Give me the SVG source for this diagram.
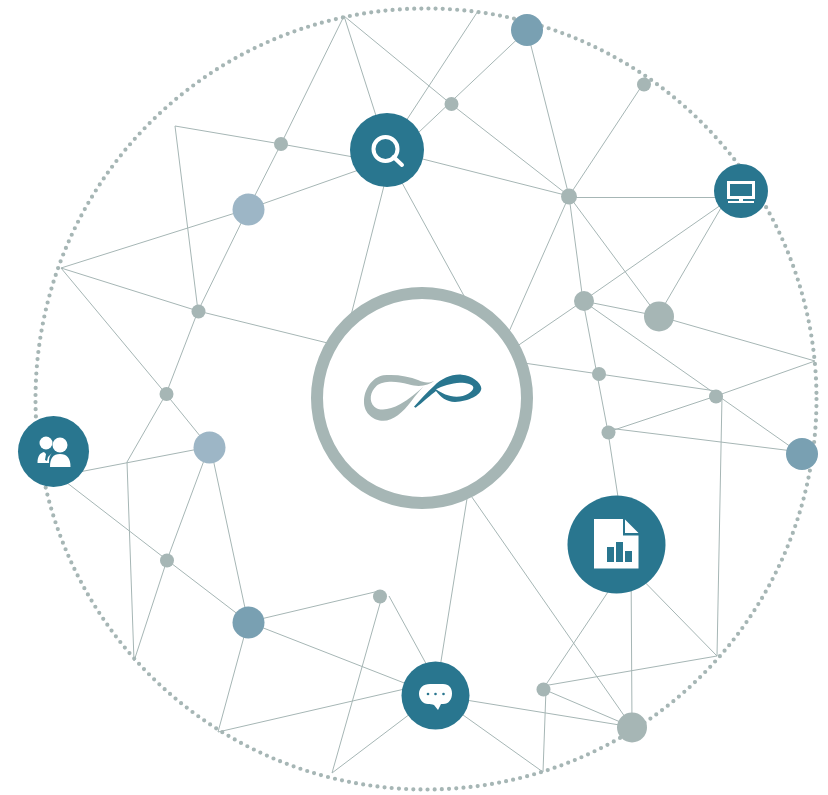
<svg xmlns="http://www.w3.org/2000/svg" width="828" height="795" viewBox="0 0 828 795">
<style>
.t{fill:#29768f}.g{fill:#a6b6b5}.w{fill:#fff}.lb{fill:#9db6c6}.mb{fill:#79a0b2}
#connectors line{stroke:#a6b6b5;stroke-width:1}
</style>
<rect width="828" height="795" fill="#fff"/>
<circle id="ring" cx="426" cy="399" r="390.500" fill="none" stroke="#a6b6b5" stroke-width="4.200" stroke-linecap="round" stroke-dasharray="0 7.195"/>
<g id="connectors">
<line x1="344" y1="16" x2="387" y2="150"/><line x1="344" y1="16" x2="281" y2="144"/><line x1="344" y1="16" x2="451" y2="104"/>
<line x1="478" y1="11" x2="387" y2="150"/><line x1="527" y1="30" x2="400" y2="150"/><line x1="451" y1="104" x2="569" y2="196"/>
<line x1="387" y1="150" x2="569" y2="196"/><line x1="527" y1="30" x2="569" y2="196"/><line x1="643" y1="84" x2="569" y2="196"/>
<line x1="569" y1="197.500" x2="741" y2="197.500"/><line x1="569" y1="196" x2="658" y2="316"/><line x1="569" y1="196" x2="583" y2="301"/>
<line x1="569" y1="196" x2="500" y2="352"/><line x1="583" y1="301" x2="510" y2="351"/><line x1="583" y1="301" x2="658" y2="316"/>
<line x1="583" y1="301" x2="801" y2="454"/><line x1="583" y1="301" x2="608" y2="432"/><line x1="510" y1="361" x2="716" y2="391"/>
<line x1="716" y1="396" x2="815" y2="361"/><line x1="608" y1="432" x2="716" y2="396"/><line x1="608" y1="428" x2="801" y2="452"/>
<line x1="608" y1="432" x2="620" y2="510"/><line x1="741" y1="191" x2="583" y2="301"/><line x1="725" y1="201" x2="658" y2="316"/>
<line x1="658" y1="316" x2="815" y2="361"/><line x1="722" y1="396" x2="717" y2="656"/><line x1="630" y1="567" x2="717" y2="656"/>
<line x1="616" y1="580" x2="543" y2="689"/><line x1="631" y1="560" x2="632" y2="727"/><line x1="543" y1="686" x2="717" y2="656"/>
<line x1="543" y1="689" x2="632" y2="727"/><line x1="546" y1="689" x2="543" y2="772"/><line x1="435" y1="695" x2="632" y2="727"/>
<line x1="435" y1="695" x2="543" y2="772"/><line x1="460" y1="480" x2="632" y2="727"/><line x1="470" y1="480" x2="438" y2="680"/>
<line x1="381" y1="600" x2="332" y2="773"/><line x1="389" y1="596" x2="435" y2="680"/><line x1="435" y1="695" x2="332" y2="773"/>
<line x1="435" y1="682" x2="218" y2="732"/><line x1="435" y1="695" x2="248" y2="622"/><line x1="379" y1="591" x2="248" y2="622"/>
<line x1="248" y1="622" x2="218" y2="732"/><line x1="248" y1="622" x2="209" y2="440"/><line x1="248" y1="622" x2="167" y2="560"/>
<line x1="167" y1="560" x2="53" y2="472"/><line x1="167" y1="560" x2="134" y2="661"/><line x1="167" y1="560" x2="209" y2="447"/>
<line x1="209" y1="447" x2="53" y2="477"/><line x1="209" y1="447" x2="166" y2="394"/><line x1="166" y1="394" x2="127" y2="462"/>
<line x1="127" y1="462" x2="134" y2="661"/><line x1="166" y1="394" x2="198" y2="311"/><line x1="166" y1="394" x2="61" y2="268"/>
<line x1="198" y1="311" x2="61" y2="268"/><line x1="198" y1="311" x2="248" y2="209"/><line x1="198" y1="311" x2="175" y2="126"/>
<line x1="198" y1="311" x2="360" y2="351"/><line x1="248" y1="209" x2="61" y2="268"/><line x1="248" y1="209" x2="281" y2="144"/>
<line x1="248" y1="209" x2="387" y2="160"/><line x1="281" y1="144" x2="175" y2="126"/><line x1="281" y1="144" x2="387" y2="163"/>
<line x1="388" y1="170" x2="346" y2="335"/><line x1="395" y1="170" x2="480" y2="325"/>
</g>
<g id="hub"><circle cx="422" cy="398" r="105" fill="#fff" stroke="#a6b6b5" stroke-width="12"/>
<g transform="translate(340 350) scale(.3333)">
<path class="g" fill-rule="evenodd" d="M283 92C268 100 252 99 236 91C205 78 165 72 130 76C95 82 72 120 72 155C72 190 100 212 130 212C160 212 188 188 215 152C226 137 238 122 250 110C230 128 208 147 180 163C150 180 118 184 103 170C86 153 90 125 110 107C128 92 170 92 205 103C240 113 265 106 283 92Z"/>
<path class="t" d="M222 170C240 150 262 125 282 108C305 85 335 72 365 74C395 76 424 98 424 115C424 135 385 155 345 156C320 156 300 140 288 123C275 132 245 160 227 173ZM288 118C305 130 325 140 350 140C375 140 400 125 400 113C400 103 380 98 360 98C335 99 305 108 288 118Z" fill-rule="evenodd"/>
</g></g>
<g id="search"><circle class="t" cx="387" cy="150" r="37"/><circle cx="385.500" cy="149" r="12" fill="none" stroke="#fff" stroke-width="4"/><line x1="393.500" y1="157" x2="402" y2="165" stroke="#fff" stroke-width="4" stroke-linecap="round"/></g>
<g id="monitor"><circle class="t" cx="741" cy="191" r="27"/><path class="w" d="M727 181H755V199H727ZM730 184V196H752V184ZM739 199H743V201H754V203H728V201H739Z" fill-rule="evenodd"/></g>
<g id="people"><circle class="t" cx="53.500" cy="451.500" r="35.500"/>
<circle class="w" cx="46" cy="443" r="6.500"/><circle class="w" cx="60" cy="445" r="7.500"/>
<path class="w" d="M37.500 463C37.500 456 40 453 44 452L46 454L45 460L47 461L48 457L52 453C49 456 49 460 49 463Z"/><path class="w" d="M50 467C50 458 53 454 60 454C67 454 70.500 458 70.500 467Z"/></g>
<g id="doc"><circle class="t" cx="616.500" cy="544.500" r="49"/><path class="w" d="M594 519H623V535.500H638.500V568.500H594Z"/><path class="w" d="M625 519.500L638.500 533H625Z"/><rect class="t" x="607" y="547" width="7" height="15"/><rect class="t" x="616" y="542" width="7" height="20"/><rect class="t" x="625" y="551" width="7" height="11"/></g>
<g id="chat"><circle class="t" cx="435.500" cy="695.500" r="34"/><path class="w" d="M430 684H443C449 684 452 688 452 693.500C452 699 449 704 443 704H441L438 710L434 705C432 704 430 704 428 704C423 704 419 699 419 694C419 688 423 684 430 684Z"/><circle class="t" cx="428" cy="694" r="1.300"/><circle class="t" cx="435.500" cy="694" r="1.300"/><circle class="t" cx="443.500" cy="694" r="1.300"/></g>
<g id="n1"><circle class="mb" cx="527" cy="30" r="16"/></g>
<g id="n2"><circle class="g" cx="451.500" cy="104" r="7"/></g>
<g id="n3"><circle class="g" cx="644" cy="84.500" r="7"/></g>
<g id="n4"><circle class="g" cx="569" cy="196.500" r="8"/></g>
<g id="n5"><circle class="g" cx="584" cy="301" r="10"/></g>
<g id="n6"><circle class="g" cx="659" cy="316.500" r="15"/></g>
<g id="n7"><circle class="g" cx="599" cy="374" r="7"/></g>
<g id="n8"><circle class="g" cx="716" cy="396.500" r="7"/></g>
<g id="n9"><circle class="g" cx="608.500" cy="432.500" r="7"/></g>
<g id="n10"><circle class="mb" cx="802" cy="454" r="16"/></g>
<g id="n11"><circle class="g" cx="281" cy="144" r="7"/></g>
<g id="n12"><circle class="lb" cx="248.500" cy="209.500" r="16"/></g>
<g id="n13"><circle class="g" cx="198.500" cy="311.500" r="7"/></g>
<g id="n14"><circle class="g" cx="166.500" cy="394" r="7"/></g>
<g id="n15"><circle class="lb" cx="209.500" cy="447.500" r="16"/></g>
<g id="n16"><circle class="g" cx="167" cy="560.500" r="7"/></g>
<g id="n17"><circle class="mb" cx="248.500" cy="622.500" r="16"/></g>
<g id="n18"><circle class="g" cx="380" cy="596.500" r="7"/></g>
<g id="n19"><circle class="g" cx="543.500" cy="689.500" r="7"/></g>
<g id="n20"><circle class="g" cx="632" cy="727.500" r="15"/></g>
</svg>
